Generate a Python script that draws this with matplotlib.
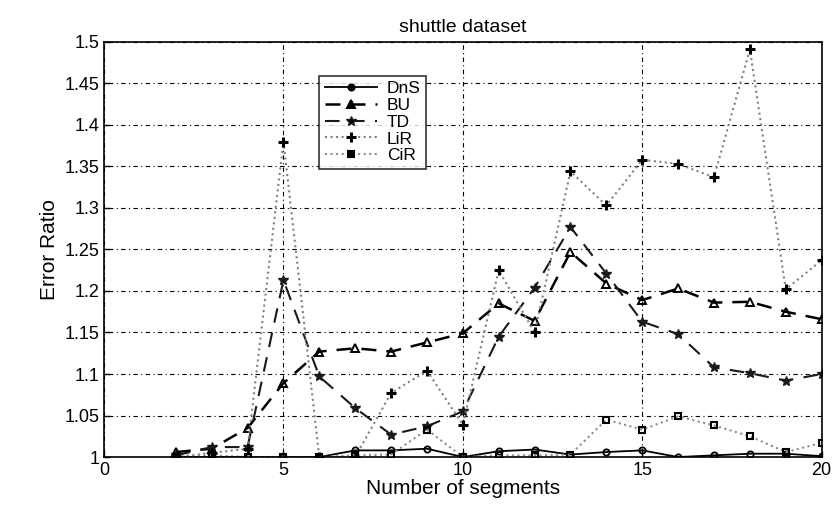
import numpy as np
import matplotlib
matplotlib.use('Agg')
import matplotlib.pyplot as plt

plt.rcParams['font.family'] = ['Liberation Sans', 'DejaVu Sans']

segments = list(range(2, 21))

dns = [1.0, 1.0, 1.0, 1.0, 1.0, 1.008, 1.008, 1.010, 1.0, 1.007,
       1.009, 1.003, 1.006, 1.008, 1.0, 1.002, 1.004, 1.004, 1.001]
bu = [1.006, 1.010, 1.035, 1.089, 1.127, 1.131, 1.127, 1.138, 1.149, 1.185,
      1.164, 1.247, 1.209, 1.189, 1.203, 1.186, 1.187, 1.175, 1.166]
td = [1.002, 1.012, 1.012, 1.213, 1.097, 1.059, 1.027, 1.037, 1.055, 1.145,
      1.204, 1.277, 1.221, 1.163, 1.148, 1.108, 1.101, 1.092, 1.100]
lir = [1.0, 1.005, 1.010, 1.380, 1.0, 1.0, 1.077, 1.104, 1.039, 1.225,
       1.150, 1.344, 1.303, 1.358, 1.353, 1.337, 1.491, 1.202, 1.237]
cir = [1.0, 1.002, 1.0, 1.0, 1.0, 1.002, 1.003, 1.033, 1.0, 1.002,
       1.002, 1.003, 1.045, 1.033, 1.049, 1.038, 1.025, 1.006, 1.017]

fig = plt.figure(figsize=(8.35, 5.05), dpi=100)
ax = fig.add_axes([0.1246, 0.095, 0.8594, 0.822])

ax.plot(segments, dns, '-', color='black', lw=1.3, marker='o', ms=4.5,
        mfc='none', mew=1.3, label='DnS')
ax.plot(segments, bu, '--', color='black', lw=1.8, marker='^', ms=5.5,
        mfc='none', mew=1.4, label='BU', dashes=(6, 4))
ax.plot(segments, td, '--', color='0.1', lw=1.5, marker='*', ms=7,
        label='TD', dashes=(7, 5))
ax.plot(segments, lir, ':', color='0.5', lw=1.5, marker='+', ms=6.5,
        mew=2.2, mec='black', label='LiR')
ax.plot(segments, cir, ':', color='0.55', lw=1.5, marker='s', ms=4.5,
        mfc='none', mec='black', mew=1.5, label='CiR')

ax.set_xlim(0, 20)
ax.set_ylim(1, 1.5)
ax.set_xticks([0, 5, 10, 15, 20])
yt = np.arange(1.0, 1.5001, 0.05)
ax.set_yticks(yt)
ax.set_yticklabels(['%g' % round(v, 2) for v in yt])
ax.tick_params(labelsize=13, direction='in', length=4, width=1)
ax.grid(True, color='black', linestyle=(0, (1, 3, 4, 3)), lw=0.8)
for s in ax.spines.values():
    s.set_linewidth(1.2)

ax.set_xlabel('Number of segments', fontsize=15, labelpad=0)
ax.set_ylabel('Error Ratio', fontsize=15)
ax.set_title('shuttle dataset', fontsize=14, pad=7)

leg = ax.legend(loc='upper left', bbox_to_anchor=(0.288, 0.94), fontsize=12.5,
                frameon=True, fancybox=False, edgecolor='black',
                handlelength=3.0, borderpad=0.3, labelspacing=0.1,
                handletextpad=0.6)
leg.get_frame().set_linewidth(1.2)
for h in leg.legend_handles:
    h.set_markerfacecolor('black')

fig.savefig('out.png', dpi=100)
